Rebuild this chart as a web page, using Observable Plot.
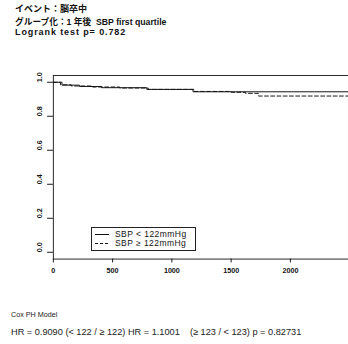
<!DOCTYPE html>
<html>
<head>
<meta charset="utf-8">
<script src="https://cdn.jsdelivr.net/npm/d3@7"></script>
<script src="https://cdn.jsdelivr.net/npm/@observablehq/plot@0.6"></script>
<style>
  html, body { margin: 0; padding: 0; background: #fff; }
  body { width: 348px; height: 344px; overflow: hidden; position: relative; font-family: "Liberation Sans", Arial, sans-serif; color: #111; }
  #chart { position: absolute; left: 0; top: 0; }
  .hdr { position: absolute; left: 15px; font-size: 9px; font-weight: bold; white-space: pre; line-height: 1; font-family: "Liberation Sans", "Noto Sans CJK JP", sans-serif; }
  .ftr { position: absolute; left: 11px; white-space: pre; line-height: 1; color: #222; }
  #legend { position: absolute; left: 91px; top: 227px; width: 103px; height: 22px; border: 1px solid #222; background: #fff; }
  #legend .row { position: absolute; left: 0; height: 9px; font-size: 8.5px; letter-spacing: 0.45px; white-space: pre; line-height: 9px; }
  #legend svg { position: absolute; left: 3px; top: 0; }
  #legend span { position: absolute; left: 23px; top: 0; }
</style>
</head>
<body>
<div id="chart"></div>
<div class="hdr" id="h1" style="top:5px"></div>
<div class="hdr" id="h2" style="top:18px;font-size:8.7px"></div>
<div class="hdr" id="h3" style="top:28px;letter-spacing:0.9px"></div>
<div id="legend"></div>
<div class="ftr" id="f1" style="top:311px;font-size:7.2px"></div>
<div class="ftr" id="f2" style="top:328px;font-size:9.2px"></div>
<script>
// ---- data ----
const titleLines = ["イベント：脳卒中", "グループ化：1 年後  SBP first quartile", "Logrank test p= 0.782"];
const footerLines = ["Cox PH Model", "HR = 0.9090 (< 122 / ≥ 122) HR = 1.1001    (≥ 123 / < 123) p = 0.82731"];
const seriesNames = ["SBP < 122mmHg", "SBP ≥ 122mmHg"];

const solidTime = [0, 73, 220, 406, 788, 1178, 2490];
const solidSurv = [1, 0.983, 0.975, 0.968, 0.958, 0.944, 0.944];

const dashTime = [0, 60, 150, 330, 560, 800, 1190, 1500, 1620, 1730, 2490];
const dashSurv = [1, 0.985, 0.978, 0.972, 0.966, 0.958, 0.946, 0.941, 0.935, 0.919, 0.919];

const xTicks = [0, 500, 1000, 1500, 2000];
const yTicks = [0, 0.2, 0.4, 0.6, 0.8, 1.0];

// ---- build tables ----
const solid = solidTime.map((t, i) => ({time: t, surv: solidSurv[i]}));
const dashed = dashTime.map((t, i) => ({time: t, surv: dashSurv[i]}));

const chart = Plot.plot({
  width: 362,
  height: 344,
  marginLeft: 55,
  marginRight: 0,
  marginTop: 78,
  marginBottom: 75,
  x: {domain: [0, 2490]},
  y: {domain: [-0.04, 1.04]},
  style: {fontFamily: "Liberation Sans, Arial, sans-serif", fontSize: "7.5px", color: "#111", background: "transparent"},
  marks: [
    Plot.frame({stroke: "#222", strokeWidth: 1}),
    Plot.line(solid, {x: "time", y: "surv", curve: "step-after", stroke: "#111", strokeWidth: 1}),
    Plot.line(dashed, {x: "time", y: "surv", curve: "step-after", stroke: "#111", strokeWidth: 1, strokeDasharray: "4,2.5"}),
    Plot.axisX({ticks: xTicks, tickSize: 4, tickPadding: 5, fontSize: 7.5, fontWeight: "bold", tickFormat: d => String(d), label: null}),
    Plot.axisY({ticks: yTicks, tickSize: 6, tickFormat: () => "", label: null}),
    Plot.text(yTicks, {y: d => d, frameAnchor: "left", dx: -14, rotate: -90, text: d => d.toFixed(1), fontSize: 7.5, fontWeight: "bold"})
  ]
});
document.getElementById("chart").appendChild(chart);

["h1", "h2", "h3"].forEach((id, i) => document.getElementById(id).textContent = titleLines[i]);
["f1", "f2"].forEach((id, i) => document.getElementById(id).textContent = footerLines[i]);

const legend = document.getElementById("legend");
seriesNames.forEach((name, i) => {
  const row = document.createElement("div");
  row.className = "row";
  row.style.top = (2 + i * 9) + "px";
  row.style.width = "103px";
  row.innerHTML = `<svg width="16" height="9"><line x1="0" x2="14" y1="4.5" y2="4.5" stroke="#111" stroke-width="1" ${i ? 'stroke-dasharray="3,2"' : ''}/></svg><span></span>`;
  row.querySelector("span").textContent = name;
  legend.appendChild(row);
});
</script>
</body>
</html>
